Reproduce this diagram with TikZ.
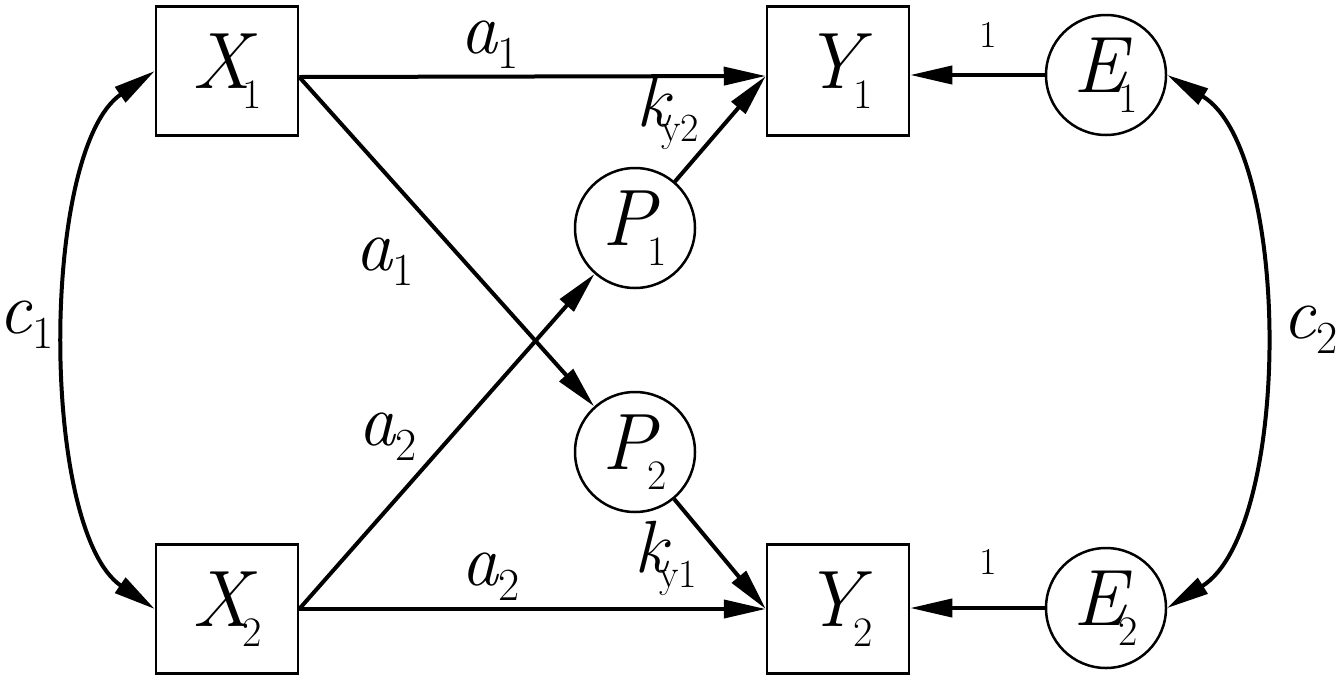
\documentclass[tikz,border=0pt]{standalone}
\usepackage{fontspec}
\usetikzlibrary{arrows.meta,calc}
\newcommand{\nsub}[2]{{\itshape #1}\kern-0.1em\raisebox{-0.25em}{\fontsize{42}{42}\selectfont #2}}
\newcommand{\lsub}[2]{{\itshape #1}\kern0.0em\raisebox{-0.2em}{\fontsize{46}{46}\selectfont #2}}
\newcommand{\ksub}[2]{{\itshape #1}\kern-0.12em\raisebox{-0.2em}{\fontsize{40}{40}\selectfont #2}}
\tikzset{
  vbox/.style={draw, line width=2.5pt, minimum width=142pt, minimum height=129pt, inner sep=0pt, font=\fontsize{80}{80}\selectfont},
  vcirc/.style={draw, circle, line width=2.5pt, minimum size=120pt, inner sep=0pt, font=\fontsize{80}{80}\selectfont},
  arr/.style={line width=4pt, -{Triangle[length=42pt,width=18pt]}},
  dbl/.style={line width=4pt, {Triangle[length=42pt,width=18pt]}-{Triangle[length=42pt,width=18pt]}},
  lab/.style={inner sep=0pt, font=\fontsize{74}{74}\selectfont},
  one/.style={inner sep=0pt, font=\fontsize{38}{38}\selectfont}
}
\begin{document}
\begin{tikzpicture}[x=1pt,y=-1pt]
\useasboundingbox[fill=white] (0,0) rectangle (1336,681);
\node[vbox] (X1) at (227,71) {\nsub{X}{1}};
\node[vbox] (X2) at (227,609) {\nsub{X}{2}};
\node[vbox] (Y1) at (838,71) {\nsub{Y}{1}};
\node[vbox] (Y2) at (838,609) {\nsub{Y}{2}};
\node[vcirc] (P1) at (635,228) {\nsub{P}{1}};
\node[vcirc] (P2) at (635,452) {\nsub{P}{2}};
\node[vcirc] (E1) at (1106,75) {\nsub{E}{1}};
\node[vcirc] (E2) at (1106,608) {\nsub{E}{2}};
\coordinate (x1o) at ([yshift=-6pt]X1.east);
\coordinate (y1i) at ([yshift=-5pt]Y1.west);
\draw[arr] (x1o) -- (y1i);
\draw[arr] (x1o) -- (P2);
\draw[arr] (X2.east) -- (P1);
\draw[arr] (X2.east) -- (Y2.west);
\draw[arr] (P1) -- (y1i);
\draw[arr] (P2) -- (Y2.west);
\draw[arr] (E1) -- (E1 -| Y1.east);
\draw[arr] (E2) -- (E2 -| Y2.east);
\draw[dbl] (X1.west) .. controls (40,150) and (40,530) .. (X2.west);
\draw[dbl] (E1.east) .. controls (1292,150) and (1292,530) .. (E2.east);
\node[lab] (la1t) at (490,45) {\lsub{a}{1}};
\node[lab] (la1m) at (385,262) {\lsub{a}{1}};
\node[lab] (la2m) at (388,437) {\lsub{a}{2}};
\node[lab] (la2b) at (491,577) {\lsub{a}{2}};
\node[lab] (lky2) at (668,112) {\ksub{k}{y2}};
\node[lab] (lky1) at (666,558) {\ksub{k}{y1}};
\node[lab] (lc1) at (26,325) {\lsub{c}{1}};
\node[lab] (lc2) at (1310,330) {\lsub{c}{2}};
\node[one] (l1t) at (988,35) {1};
\node[one] (l1b) at (988,562) {1};
\end{tikzpicture}
\end{document}
